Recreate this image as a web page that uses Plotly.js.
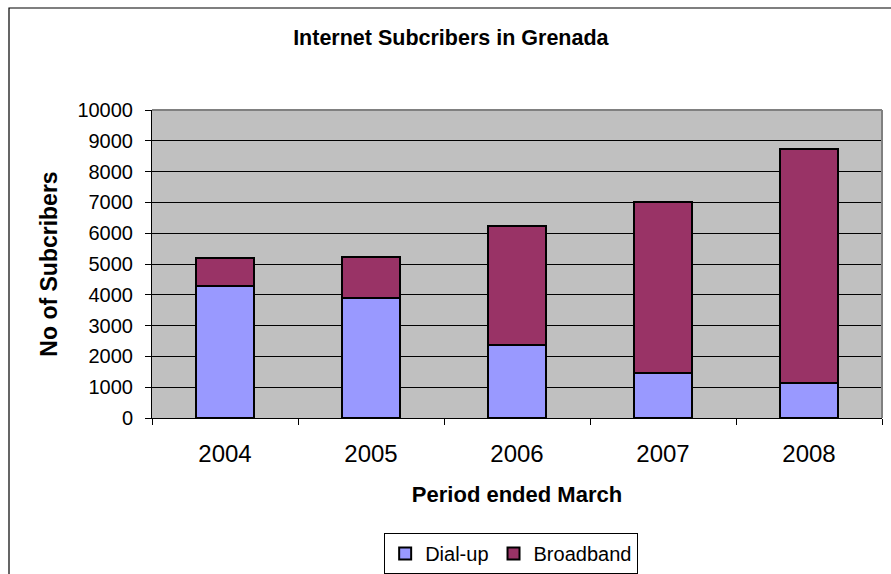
<!DOCTYPE html>
<html>
<head>
<meta charset="utf-8">
<script src="https://cdn.plot.ly/plotly-3.0.1.min.js"></script>
<style>
html,body{margin:0;padding:0;background:#fff;}
#chart{width:891px;height:574px;}
</style>
</head>
<body>
<div id="chart"></div>
<script>
// Data
const years = ["2004", "2005", "2006", "2007", "2008"];
const dialUp = [4280, 3900, 2370, 1460, 1130];
const broadband = [920, 1340, 3880, 5560, 7620];
const seriesNames = ["Dial-up", "Broadband"];
const yTicks = [0, 1000, 2000, 3000, 4000, 5000, 6000, 7000, 8000, 9000, 10000];

const FONT = "Liberation Sans, Arial, Helvetica, sans-serif";

const traces = [
  {
    type: "bar", name: seriesNames[0], x: years, y: dialUp,
    marker: {color: "#9999FF", line: {color: "#000000", width: 2}},
    width: 0.4
  },
  {
    type: "bar", name: seriesNames[1], x: years, y: broadband,
    marker: {color: "#993366", line: {color: "#000000", width: 2}},
    width: 0.4
  }
];

const layout = {
  width: 891, height: 574,
  margin: {l: 152, r: 9, t: 110, b: 156, autoexpand: false},
  barmode: "stack",
  paper_bgcolor: "#ffffff",
  plot_bgcolor: "#c0c0c0",
  font: {family: FONT, color: "#000000"},
  title: {
    text: "<b>Internet Subcribers in Grenada</b>",
    font: {family: FONT, size: 21.5, color: "#000000"},
    x: 0.506, xref: "container", xanchor: "center",
    y: 1 - 37 / 574, yref: "container", yanchor: "middle"
  },
  xaxis: {
    type: "category",
    showgrid: false,
    showline: true, linecolor: "#000000", linewidth: 1,
    ticks: "outside", tickson: "boundaries", ticklen: 6, tickcolor: "#000000", tickwidth: 1,
    tickfont: {family: FONT, size: 24, color: "#000000"},
    ticklabelstandoff: 14,
    title: {text: "<b>Period ended March</b>", font: {family: FONT, size: 22, color: "#000000"}, standoff: 20},
    automargin: false,
    fixedrange: true
  },
  yaxis: {
    range: [0, 10000],
    tickvals: yTicks,
    ticktext: yTicks.map(String),
    showgrid: true, gridcolor: "#000000", gridwidth: 1,
    zeroline: false,
    showline: true, linecolor: "#000000", linewidth: 1,
    ticks: "outside", ticklen: 6, tickcolor: "#000000", tickwidth: 1,
    tickfont: {family: FONT, size: 20, color: "#000000"},
    ticklabelstandoff: 8,
    title: {text: "<b>No of Subcribers</b>", font: {family: FONT, size: 23, color: "#000000"}, standoff: 13},
    automargin: false,
    fixedrange: true
  },
  showlegend: true,
  legend: {
    orientation: "h",
    x: 0.492, xanchor: "center",
    y: (418 - 533) / 308, yanchor: "top",
    font: {family: FONT, size: 20, color: "#000000"},
    bordercolor: "#000000", borderwidth: 1, bgcolor: "#ffffff",
    traceorder: "normal",
    itemwidth: 30,
    tracegroupgap: 0
  },
  shapes: [
    // outer chart border (extends past right and bottom edges as in reference)
    {type: "rect", xref: "paper", yref: "paper",
     x0: (9 - 152) / 730, x1: 1.05, y0: -0.7, y1: (418 - 8) / 308,
     line: {color: "#000000", width: 1.2}, fillcolor: "rgba(0,0,0,0)", layer: "below"},
    // gray plot-area border top and right
    {type: "line", xref: "paper", yref: "paper", x0: 0, x1: 1, y0: 1, y1: 1,
     line: {color: "#808080", width: 2}},
    {type: "line", xref: "paper", yref: "paper", x0: 1, x1: 1, y0: 0, y1: 1,
     line: {color: "#808080", width: 2}}
  ]
};

Plotly.newPlot("chart", traces, layout, {displayModeBar: false, staticPlot: true});
</script>
</body>
</html>
